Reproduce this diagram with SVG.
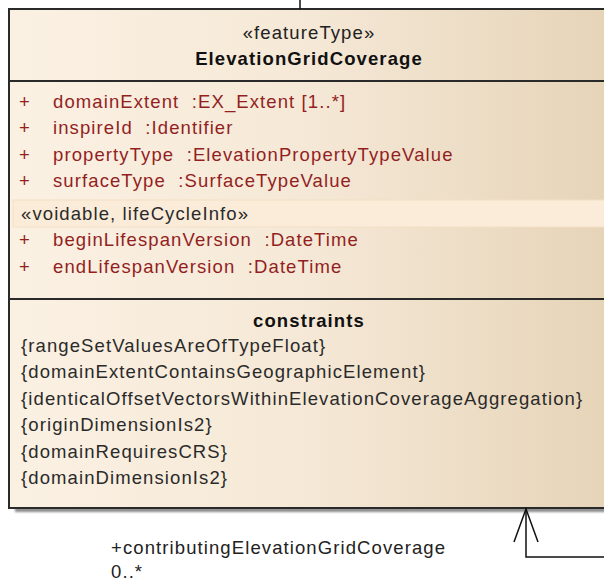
<svg xmlns="http://www.w3.org/2000/svg" width="604" height="580" viewBox="0 0 604 580">
  <style>
    text { font-family: "Liberation Sans", Arial, sans-serif; font-size: 18.5px; letter-spacing: 1.1px; white-space: pre; }
    .title { font-weight: bold; fill: #111; text-anchor: middle; }
    .stereo { fill: #222; text-anchor: middle; }
    .attr { fill: #931f1f; }
    .group { fill: #2a2a2a; }
    .cons { fill: #2a2a2a; }
    .label { fill: #222; }
    .border { fill: none; stroke: #2a2a2a; stroke-width: 2; }
    .sep { stroke: #2a2a2a; stroke-width: 2; }
    .edge { fill: none; stroke: #111; stroke-width: 1.5; }
  </style>
  <defs>
    <linearGradient id="classFill" gradientUnits="userSpaceOnUse" x1="9" y1="0" x2="609" y2="0">
      <stop offset="0" stop-color="#fbf1e3"/>
      <stop offset="0.5" stop-color="#f5e8d6"/>
      <stop offset="1" stop-color="#e6d4b8"/>
    </linearGradient>
    <filter id="soft" x="-5%" y="-50%" width="110%" height="200%">
      <feGaussianBlur stdDeviation="1"/>
    </filter>
  </defs>

  <rect width="604" height="580" fill="#ffffff"/>

  <!-- class: ElevationGridCoverage -->
  <g id="ElevationGridCoverage">
    <rect x="15" y="508" width="600" height="4" fill="#8a8a8a" filter="url(#soft)"/>
    <rect x="9" y="9" width="600" height="499" fill="url(#classFill)"/>
    <rect x="9" y="9" width="600" height="499" class="border"/>

    <text class="stereo" x="309" y="39">«featureType»</text>
    <text class="title" x="309" y="65">ElevationGridCoverage</text>
    <line class="sep" x1="9" y1="81" x2="609" y2="81"/>

    <g class="attr" xml:space="preserve">
      <text x="19" y="108">+</text><text x="53" y="108">domainExtent  :EX_Extent [1..*]</text>
      <text x="19" y="134">+</text><text x="53" y="134">inspireId  :Identifier</text>
      <text x="19" y="161">+</text><text x="53" y="161">propertyType  :ElevationPropertyTypeValue</text>
      <text x="19" y="187">+</text><text x="53" y="187">surfaceType  :SurfaceTypeValue</text>
    </g>
    <rect x="13" y="200" width="592" height="27" fill="#fbecd9" stroke="#f3dfc4" stroke-width="1"/>
    <text class="group" x="21" y="220">«voidable, lifeCycleInfo»</text>
    <g class="attr" xml:space="preserve">
      <text x="19" y="246">+</text><text x="53" y="246">beginLifespanVersion  :DateTime</text>
      <text x="19" y="273">+</text><text x="53" y="273">endLifespanVersion  :DateTime</text>
    </g>
    <line class="sep" x1="9" y1="299" x2="609" y2="299"/>

    <text class="title" x="309" y="327">constraints</text>
    <g class="cons">
      <text x="21" y="352">{rangeSetValuesAreOfTypeFloat}</text>
      <text x="21" y="378">{domainExtentContainsGeographicElement}</text>
      <text x="21" y="405">{identicalOffsetVectorsWithinElevationCoverageAggregation}</text>
      <text x="21" y="431">{originDimensionIs2}</text>
      <text x="21" y="458">{domainRequiresCRS}</text>
      <text x="21" y="484">{domainDimensionIs2}</text>
    </g>
  </g>

  <!-- connectors -->
  <g id="connectors">
    <line class="edge" x1="300" y1="0" x2="300" y2="9"/>
    <polyline class="edge" points="604,557 526,557 526,509"/>
    <polyline class="edge" points="514,542 526,509 538,542"/>
    <text class="label" x="111" y="554">+contributingElevationGridCoverage</text>
    <text class="label" x="111" y="578">0..*</text>
  </g>
</svg>
